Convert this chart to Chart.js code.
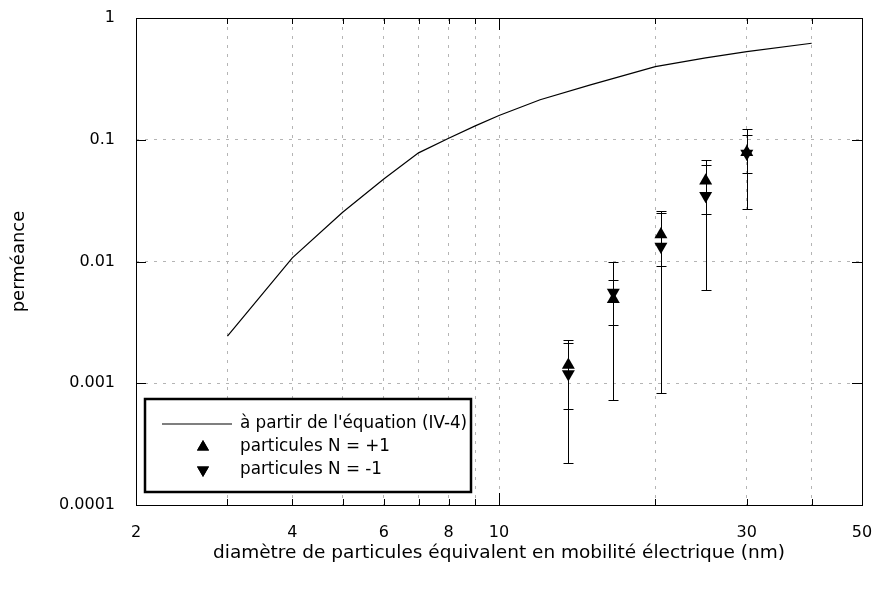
<!DOCTYPE html>
<html><head><meta charset="utf-8">
<script src="https://cdn.jsdelivr.net/npm/chart.js@4/dist/chart.umd.min.js"></script>
<style>html,body{margin:0;padding:0;background:#fff}#wrap{width:878px;height:592px}</style>
</head><body><div id="wrap"><canvas id="c" width="878" height="592"></canvas></div>
<script>
// ---- data ----
const curveX = [3, 4, 5, 6, 7, 8, 9, 10, 12, 15, 20, 25, 30, 40];
const curveY = [0.00244, 0.0107, 0.0254, 0.0476, 0.078, 0.103, 0.130, 0.158, 0.213, 0.282, 0.399, 0.470, 0.530, 0.620];
const dataX = [13.6, 16.6, 20.5, 25, 30];
const posY  = [0.00141, 0.00489, 0.01665, 0.0461, 0.079];
const posHi = [0.00225, 0.00699, 0.0262, 0.0686, 0.110];
const posLo = [0.000612, 0.00299, 0.0091, 0.0247, 0.0537];
const negY  = [0.00119, 0.00557, 0.01327, 0.0347, 0.077];
const negHi = [0.00213, 0.0100, 0.0252, 0.0624, 0.123];
const negLo = [0.000221, 0.000726, 0.000828, 0.00578, 0.0272];
const xTicks  = [2, 3, 4, 5, 6, 7, 8, 9, 10, 20, 30, 40, 50];
const xLabels = ['2', '', '4', '', '6', '', '8', '', '10', '', '30', '', '50'];
const yTicks  = [0.0001, 0.001, 0.01, 0.1, 1];
const yLabels = ['0.0001', '0.001', '0.01', '0.1', '1'];
const seriesNames = ["à partir de l'équation (IV-4)", 'particules N = +1', 'particules N = -1'];
const xTitle = 'diamètre de particules équivalent en mobilité électrique (nm)';
const yTitle = 'perméance';

const FONT = '"DejaVu Sans", "Liberation Sans", sans-serif';
const gridCol = (edgeVals) => (c) => (c.tick && edgeVals.includes(c.tick.value)) ? 'rgba(0,0,0,0)' : '#b4b4b4';

const deco = {
  id: 'deco',
  beforeDatasetsDraw(chart) {
    const {ctx, scales: {x, y}} = chart;
    ctx.save();
    ctx.strokeStyle = '#000'; ctx.lineWidth = 1;
    const draw = (hi, lo) => dataX.forEach((xv, i) => {
      const px = Math.round(x.getPixelForValue(xv)) + 0.5;
      const ph = Math.round(y.getPixelForValue(hi[i])) + 0.5;
      const pl = Math.round(y.getPixelForValue(lo[i])) + 0.5;
      ctx.beginPath();
      ctx.moveTo(px, ph); ctx.lineTo(px, pl);
      ctx.moveTo(px - 5, ph); ctx.lineTo(px + 5, ph);
      ctx.moveTo(px - 5, pl); ctx.lineTo(px + 5, pl);
      ctx.stroke();
    });
    draw(posHi, posLo); draw(negHi, negLo);
    ctx.restore();
  },
  afterDraw(chart) {
    const {ctx, chartArea: a, scales: {x, y}} = chart;
    ctx.save();
    ctx.strokeStyle = '#000'; ctx.lineWidth = 1;
    ctx.strokeRect(a.left + 0.5, a.top + 0.5, a.right - a.left, a.bottom - a.top);
    ctx.beginPath();
    xTicks.forEach(v => {
      if (v === 2 || v === 50) return;
      const px = Math.round(x.getPixelForValue(v)) + 0.5;
      const len = (v === 10) ? 12 : 6;
      ctx.moveTo(px, a.bottom); ctx.lineTo(px, a.bottom - len);
      ctx.moveTo(px, a.top); ctx.lineTo(px, a.top + len);
    });
    yTicks.forEach(v => {
      if (v === 1 || v === 0.0001) return;
      const py = Math.round(y.getPixelForValue(v)) + 0.5;
      ctx.moveTo(a.left, py); ctx.lineTo(a.left + 10, py);
      ctx.moveTo(a.right, py); ctx.lineTo(a.right - 10, py);
    });
    ctx.stroke();
    // legend
    const bx = 145, by = 399, bw = 326, bh = 93;
    ctx.fillStyle = '#fff';
    ctx.fillRect(bx, by, bw, bh);
    ctx.lineWidth = 2.5;
    ctx.strokeRect(bx, by, bw, bh);
    ctx.lineWidth = 1.2;
    ctx.beginPath(); ctx.moveTo(162, 424); ctx.lineTo(232, 424); ctx.stroke();
    ctx.fillStyle = '#000';
    ctx.font = '16.8px ' + FONT;
    ctx.textBaseline = 'middle'; ctx.textAlign = 'left';
    const rows = [424, 447, 470];
    seriesNames.forEach((t, i) => ctx.fillText(t, 240, rows[i]));
    Chart.helpers.drawPoint(ctx, {pointStyle: 'triangle', rotation: 0, radius: 7, borderWidth: 0}, 203, rows[1]);
    ctx.fill();
    Chart.helpers.drawPoint(ctx, {pointStyle: 'triangle', rotation: 180, radius: 7, borderWidth: 0}, 203, rows[2]);
    ctx.fill();
    ctx.restore();
  }
};

new Chart(document.getElementById('c'), {
  type: 'scatter',
  data: {
    datasets: [
      { label: seriesNames[0], data: curveX.map((v, i) => ({x: v, y: curveY[i]})), showLine: true,
        borderColor: '#000', borderWidth: 1.2, pointRadius: 0, tension: 0 },
      { label: seriesNames[1], data: dataX.map((v, i) => ({x: v, y: posY[i]})), pointStyle: 'triangle',
        pointRadius: 7.5, backgroundColor: '#000', borderColor: '#000', borderWidth: 0 },
      { label: seriesNames[2], data: dataX.map((v, i) => ({x: v, y: negY[i]})), pointStyle: 'triangle',
        rotation: 180, pointRadius: 7.5, backgroundColor: '#000', borderColor: '#000', borderWidth: 0 }
    ]
  },
  options: {
    responsive: false, animation: false, devicePixelRatio: 1,
    layout: { padding: { left: 0, right: 16, top: 18, bottom: 0 } },
    plugins: { legend: { display: false }, tooltip: { enabled: false } },
    scales: {
      x: {
        type: 'logarithmic', position: 'bottom', min: 2, max: 50,
        afterBuildTicks: s => { s.ticks = xTicks.map(v => ({value: v})); },
        afterFit: s => { s.height = 87; s.paddingLeft = 0; s.paddingRight = 0; },
        ticks: { autoSkip: false, maxRotation: 0, padding: 18, color: '#000',
          font: { family: FONT, size: 16 }, callback: (v, i) => xLabels[i] },
        grid: { drawTicks: false, color: gridCol([2, 50]), lineWidth: 1 },
        border: { display: false, dash: [3, 6] },
        title: { display: true, text: xTitle, color: '#000', font: { family: FONT, size: 18.5 },
          padding: { top: 0, bottom: 28 } }
      },
      y: {
        type: 'logarithmic', position: 'left', min: 0.0001, max: 1,
        afterBuildTicks: s => { s.ticks = yTicks.map(v => ({value: v})); },
        afterFit: s => { s.width = 136; s.paddingTop = 0; s.paddingBottom = 0; },
        ticks: { autoSkip: false, padding: 21, color: '#000',
          font: { family: FONT, size: 16 }, callback: (v, i) => yLabels[i] },
        grid: { drawTicks: false, color: gridCol([0.0001, 1]), lineWidth: 1 },
        border: { display: false, dash: [3, 6] },
        title: { display: true, text: yTitle, color: '#000', font: { family: FONT, size: 18 },
          padding: { top: 9, bottom: 0 } }
      }
    }
  },
  plugins: [deco]
});
</script>
</body></html>
